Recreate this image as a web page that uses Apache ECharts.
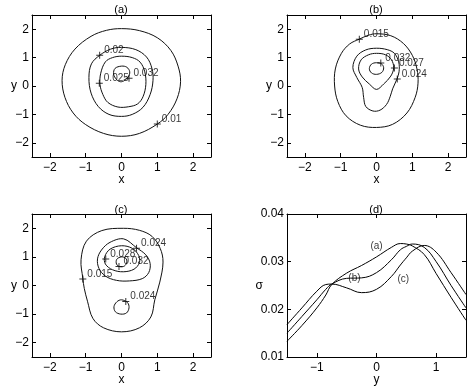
<!DOCTYPE html>
<html>
<head>
<meta charset="utf-8">
<script src="https://cdn.jsdelivr.net/npm/echarts@6.0.0/dist/echarts.min.js"></script>
<style>
  html, body { margin: 0; padding: 0; background: #fff; }
  #chart { width: 470px; height: 387px; }
</style>
</head>
<body>
<div id="chart"></div>
<script>
// --- tick labels ---
const planeTicks = [-2, -1, 0, 1, 2];
const profileXTicks = [-1, 0, 1];
const profileYTicks = [0.01, 0.02, 0.03, 0.04];

// --- panel (a) contour lines, points [x, y] ---
const a010 = [[0,2.02],[0.5,1.95],[1.0,1.7],[1.38,1.25],[1.58,0.7],[1.65,0.15],[1.55,-0.45],[1.3,-1.0],[1.0,-1.34],[0.5,-1.67],[0,-1.77],[-0.5,-1.67],[-1.0,-1.36],[-1.35,-0.95],[-1.58,-0.4],[-1.66,0.2],[-1.57,0.75],[-1.3,1.3],[-0.85,1.75],[-0.42,1.96]];
const a020 = [[0,1.36],[0.4,1.28],[0.7,1.02],[0.85,0.62],[0.88,0.2],[0.8,-0.3],[0.6,-0.75],[0.3,-1.0],[0,-1.07],[-0.35,-1.0],[-0.65,-0.72],[-0.85,-0.25],[-0.91,0.3],[-0.84,0.78],[-0.61,1.08],[-0.3,1.3]];
const a025 = [[0,1.05],[0.3,1.0],[0.52,0.84],[0.65,0.5],[0.68,0.05],[0.6,-0.38],[0.45,-0.63],[0.2,-0.73],[-0.1,-0.74],[-0.38,-0.58],[-0.52,-0.3],[-0.6,0.05],[-0.58,0.45],[-0.45,0.85],[-0.25,1.0]];
const a032 = [[0,0.70],[0.15,0.66],[0.23,0.5],[0.19,0.32],[0.08,0.19],[-0.03,0.15],[-0.14,0.23],[-0.22,0.42],[-0.18,0.62]];
const labelsA = [[-0.61,1.08,'0.02'],[0.21,0.27,'0.032'],[-0.62,0.1,'0.025'],[1.0,-1.34,'0.01']];

// --- panel (b) ---
const b015 = [[0,1.84],[0.4,1.77],[0.75,1.5],[1.0,1.08],[1.13,0.6],[1.16,0.1],[1.08,-0.4],[0.85,-0.95],[0.45,-1.35],[0,-1.46],[-0.45,-1.38],[-0.85,-1.05],[-1.08,-0.55],[-1.17,0.0],[-1.15,0.6],[-0.98,1.15],[-0.75,1.48],[-0.48,1.65],[-0.22,1.79]];
const b024 = [[0,1.33],[0.3,1.28],[0.5,1.15],[0.62,0.85],[0.63,0.5],[0.57,0.24],[0.45,-0.1],[0.38,-0.38],[0.28,-0.65],[0.1,-0.85],[-0.1,-0.88],[-0.3,-0.72],[-0.36,-0.4],[-0.4,-0.05],[-0.55,0.3],[-0.66,0.65],[-0.55,1.05],[-0.3,1.27]];
const b027 = [[0,1.15],[0.25,1.1],[0.42,0.92],[0.48,0.64],[0.4,0.35],[0.2,0.07],[0,-0.12],[-0.2,0.07],[-0.4,0.32],[-0.5,0.6],[-0.43,0.92],[-0.22,1.1]];
const b032 = [[0,0.82],[0.14,0.78],[0.2,0.64],[0.15,0.48],[0,0.41],[-0.14,0.46],[-0.2,0.61],[-0.14,0.77]];
const labelsB = [[-0.48,1.65,'0.015'],[0.12,0.81,'0.032'],[0.5,0.63,'0.027'],[0.58,0.25,'0.024']];

// --- panel (c) ---
const c015 = [[0.05,2.0],[0.5,1.93],[0.85,1.72],[1.08,1.3],[1.16,0.82],[1.07,0.12],[0.93,-0.5],[0.82,-1.1],[0.5,-1.48],[0,-1.62],[-0.5,-1.48],[-0.8,-1.15],[-0.95,-0.55],[-1.04,-0.1],[-1.08,0.25],[-1.13,0.9],[-0.98,1.55],[-0.55,1.92]];
const c024 = [[0.06,1.63],[0.42,1.32],[0.68,1.07],[0.8,0.77],[0.76,0.45],[0.58,0.24],[0.22,0.16],[-0.14,0.18],[-0.45,0.33],[-0.63,0.6],[-0.67,0.93],[-0.56,1.24],[-0.32,1.51]];
const c028 = [[0,1.39],[0.3,1.3],[0.48,1.05],[0.5,0.8],[0.35,0.57],[0.05,0.48],[-0.25,0.55],[-0.45,0.75],[-0.47,1.0],[-0.32,1.27]];
const c032 = [[0,1.0],[0.12,0.95],[0.15,0.82],[0.08,0.68],[-0.05,0.66],[-0.14,0.75],[-0.13,0.92]];
const c024low = [[0,-0.5],[0.17,-0.6],[0.21,-0.78],[0.14,-0.96],[-0.02,-1.0],[-0.17,-0.92],[-0.21,-0.74],[-0.13,-0.57]];
const labelsC = [[0.42,1.3,'0.024'],[-0.44,0.93,'0.028'],[-0.07,0.66,'0.032'],[-1.08,0.23,'0.015'],[0.12,-0.56,'0.024']];

// --- panel (d) sigma profiles along y ---
const profileY = [-1.5,-1.25,-1.0,-0.85,-0.75,-0.5,-0.25,0,0.25,0.4,0.5,0.6,0.8,1.0,1.25,1.5];
const sigmaA = [0.0133,0.0166,0.0203,0.0230,0.0252,0.0276,0.0292,0.0310,0.0330,0.0338,0.0337,0.0333,0.0315,0.0275,0.0225,0.0177];
const sigmaB = [0.0150,0.0185,0.0220,0.0242,0.0253,0.0265,0.0266,0.0277,0.0304,0.0325,0.0332,0.0337,0.0330,0.0300,0.0250,0.0203];
const sigmaC = [0.0168,0.0203,0.0238,0.0252,0.0253,0.0245,0.0235,0.0242,0.0269,0.0293,0.0308,0.0322,0.0334,0.0320,0.0277,0.0231];
const curveLabels = [[0.0,0.0333,'(a)'],[-0.37,0.0266,'(b)'],[0.45,0.0264,'(c)']];

const FONT = 'Liberation Sans, Arial, Helvetica, sans-serif';
const minus = v => (v < 0 ? '\u2212' + Math.abs(v) : String(v));

const grids = [
  { left: 32, top: 15, width: 179, height: 142 },
  { left: 287, top: 15, width: 179, height: 142 },
  { left: 32, top: 214, width: 179, height: 143 },
  { left: 287, top: 214, width: 179, height: 143 }
];

function axisPair(kind, g, min, max, ticks, fmt, name, nameGap) {
  const base = {
    type: 'value', gridIndex: g, min: min, max: max,
    axisLine: { show: true, onZero: false, lineStyle: { color: '#000', width: 1 } },
    axisTick: { show: true, inside: true, length: 4, customValues: ticks, lineStyle: { color: '#000' } },
    splitLine: { show: false }
  };
  const main = Object.assign({}, base, {
    position: kind === 'x' ? 'bottom' : 'left',
    axisLabel: { show: true, customValues: ticks, formatter: fmt, margin: kind === 'x' ? 5 : 3,
                 color: '#000', fontSize: 12, fontFamily: FONT },
    name: name, nameLocation: 'middle', nameGap: nameGap, nameRotate: 0, nameMoveOverlap: false,
    nameTextStyle: { color: '#000', fontSize: 12, fontFamily: FONT }
  });
  const mirror = Object.assign({}, base, {
    position: kind === 'x' ? 'top' : 'right',
    axisLabel: { show: false }
  });
  return [main, mirror];
}

const xAxes = [], yAxes = [];
for (let g = 0; g < 3; g++) {
  xAxes.push(...axisPair('x', g, -2.5, 2.5, planeTicks, minus, 'x', 17));
  yAxes.push(...axisPair('y', g, -2.5, 2.5, planeTicks, minus, 'y', 15));
}
xAxes.push(...axisPair('x', 3, -1.5, 1.5, profileXTicks, minus, 'y', 17));
yAxes.push(...axisPair('y', 3, 0.01, 0.04, profileYTicks, v => v.toFixed(2), '\u03c3', 24));

function contour(g, pts) {
  return {
    type: 'custom', xAxisIndex: 2 * g, yAxisIndex: 2 * g, data: pts, silent: true,
    renderItem: function (params, api) {
      if (params.dataIndex !== 0) return null;
      return {
        type: 'polygon',
        shape: { points: pts.map(p => api.coord(p)), smooth: 0.35 },
        style: { fill: 'none', stroke: '#111', lineWidth: 1 }
      };
    }
  };
}

function contourLabels(g, list) {
  return {
    type: 'scatter', xAxisIndex: 2 * g, yAxisIndex: 2 * g, silent: true,
    data: list.map(l => ({ value: [l[0], l[1]], name: l[2] })),
    symbol: 'path://M3,0H4V3H7V4H4V7H3V4H0V3H3Z', symbolSize: 7,
    itemStyle: { color: '#000' },
    label: { show: true, position: 'right', distance: 1, offset: [0, -5],
             formatter: p => p.name, color: '#000', fontSize: 10, fontFamily: FONT }
  };
}

function profile(vals) {
  return {
    type: 'line', xAxisIndex: 6, yAxisIndex: 6, smooth: 0.4, showSymbol: false, silent: true,
    data: profileY.map((y, i) => [y, vals[i]]),
    lineStyle: { color: '#000', width: 1 }
  };
}

const series = [
  contour(0, a010), contour(0, a020), contour(0, a025), contour(0, a032), contourLabels(0, labelsA),
  contour(1, b015), contour(1, b024), contour(1, b027), contour(1, b032), contourLabels(1, labelsB),
  contour(2, c015), contour(2, c024), contour(2, c028), contour(2, c032), contour(2, c024low), contourLabels(2, labelsC),
  profile(sigmaA), profile(sigmaB), profile(sigmaC),
  {
    type: 'scatter', xAxisIndex: 6, yAxisIndex: 6, symbol: 'circle', symbolSize: 2, silent: true,
    itemStyle: { color: 'rgba(255,255,255,0)' },
    data: curveLabels.map(l => ({ value: [l[0], l[1]], name: l[2] })),
    label: { show: true, position: 'inside', formatter: p => p.name, color: '#000',
             textBorderWidth: 0, fontSize: 10, fontFamily: FONT }
  }
];

const titles = [['(a)', 121, 9.5], ['(b)', 376, 9.5], ['(c)', 121, 209.5], ['(d)', 376, 209.5]];

const chart = echarts.init(document.getElementById('chart'), null, { renderer: 'canvas' });
chart.setOption({
  animation: false,
  backgroundColor: '#fff',
  grid: grids,
  xAxis: xAxes,
  yAxis: yAxes,
  series: series,
  graphic: titles.map(t => ({
    type: 'text', x: t[1], y: t[2], silent: true,
    style: { text: t[0], align: 'center', verticalAlign: 'middle', fill: '#000', fontSize: 11, fontFamily: FONT }
  }))
});
</script>
</body>
</html>
